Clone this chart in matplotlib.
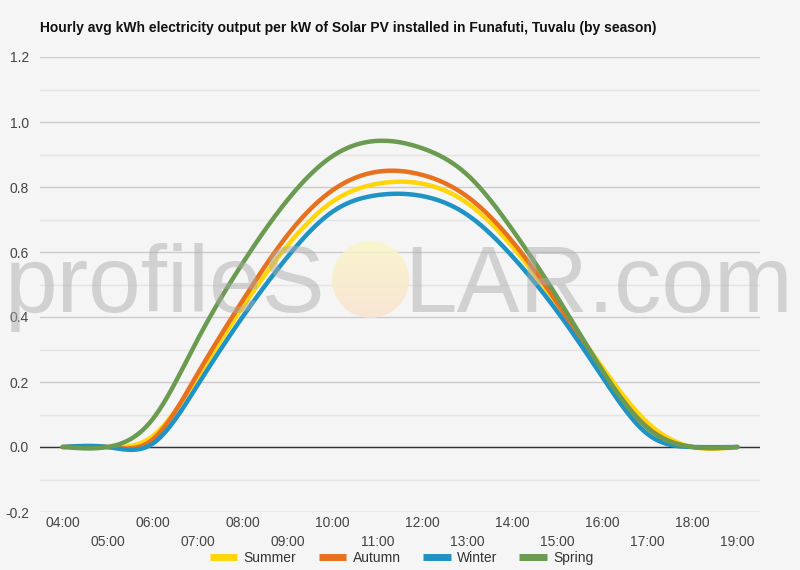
import numpy as np
import matplotlib
matplotlib.use("Agg")
import matplotlib.pyplot as plt
from matplotlib.patches import Circle
from matplotlib.colors import LinearSegmentedColormap

plt.rcParams['font.family'] = ['Liberation Sans', 'DejaVu Sans']

hours = ['04:00', '05:00', '06:00', '07:00', '08:00', '09:00', '10:00', '11:00',
         '12:00', '13:00', '14:00', '15:00', '16:00', '17:00', '18:00', '19:00']
summer = [0, 0, 0.033, 0.215, 0.43, 0.62, 0.755, 0.81, 0.81, 0.75, 0.616, 0.437, 0.245, 0.075, 0, 0]
autumn = [0, 0, 0.023, 0.225, 0.45, 0.652, 0.79, 0.847, 0.837, 0.77, 0.632, 0.442, 0.232, 0.06, 0, 0]
winter = [0, 0, 0.01, 0.19, 0.40, 0.585, 0.724, 0.775, 0.772, 0.714, 0.586, 0.416, 0.215, 0.04, 0, 0]
spring = [0, 0, 0.085, 0.33, 0.565, 0.76, 0.895, 0.942, 0.919, 0.837, 0.668, 0.46, 0.235, 0.058, 0, 0]

series = [('Summer', summer, '#ffd60a'), ('Autumn', autumn, '#e8711e'),
          ('Winter', winter, '#1f93c4'), ('Spring', spring, '#6b9a51')]


def smooth(y, n=40):
    # natural cubic spline through the hourly points (drawing only)
    y = np.asarray(y, dtype=float)
    k = len(y)
    A = np.zeros((k, k))
    b = np.zeros(k)
    A[0, 0] = A[-1, -1] = 1
    for i in range(1, k - 1):
        A[i, i-1], A[i, i], A[i, i+1] = 1, 4, 1
        b[i] = 6 * (y[i+1] - 2*y[i] + y[i-1])
    M = np.linalg.solve(A, b)
    xs, ys = [], []
    for i in range(k - 1):
        t = np.linspace(0, 1, n, endpoint=False)
        seg = ((1-t)*y[i] + t*y[i+1]
               + ((1-t)**3 - (1-t)) * M[i] / 6 + (t**3 - t) * M[i+1] / 6)
        xs.append(i + t)
        ys.append(seg)
    xs.append([k - 1])
    ys.append([y[-1]])
    return np.concatenate(xs), np.concatenate(ys)


bg = '#f5f5f5'
fig = plt.figure(figsize=(8, 5.7), dpi=100, facecolor=bg)
ax = fig.add_axes([40/800, 1-512/570, 720/800, 455/570], facecolor=bg)

for name, vals, col in series:
    xs, ys = smooth(vals)
    ax.plot(xs, ys, color=col, lw=3.2, label=name, solid_capstyle='round', zorder=3)

ax.axhline(0, color='#333333', lw=1, zorder=2)
ax.set_xlim(-0.5, len(hours) - 0.5)
ax.set_ylim(-0.2, 1.2)
ax.set_yticks(np.arange(-0.2, 1.21, 0.2))
ax.set_yticklabels(['%.1f' % v for v in np.arange(-0.2, 1.21, 0.2)])
ax.set_yticks(np.arange(-0.1, 1.2, 0.2), minor=True)
ax.grid(axis='y', which='major', color='#cccccc', lw=1, zorder=0)
ax.grid(axis='y', which='minor', color='#e4e4e4', lw=1, zorder=0)
ax.set_axisbelow(True)

idx = np.arange(len(hours))
ax.set_xticks(idx[::2])
ax.set_xticklabels(hours[::2])
ax.set_xticks(idx[1::2], minor=True)
ax.set_xticklabels(hours[1::2], minor=True)
# odd hours go on a second row under the even hours
ax.tick_params(axis='x', which='major', length=0, pad=3, labelsize=10, labelcolor='#444444')
ax.tick_params(axis='x', which='minor', length=0, pad=16.5, labelsize=10, labelcolor='#444444')
ax.tick_params(axis='y', which='both', length=0, pad=8, labelsize=10, labelcolor='#444444')
for s in ax.spines.values():
    s.set_visible(False)

leg = ax.legend(loc='center', bbox_to_anchor=(0.502, 1-558/570), bbox_transform=fig.transFigure,
                ncol=4, frameon=False, fontsize=10, handlelength=2.0, handletextpad=0.45,
                columnspacing=1.6, labelcolor='#333333')
for h in leg.get_lines():
    h.set_linewidth(5)
    h.set_solid_capstyle('butt')

fig.text(40/800, 1-28/570, 'Hourly avg kWh electricity output per kW of Solar PV installed in Funafuti, Tuvalu (by season)',
         fontsize=10, fontweight='bold', va='center', ha='left', color='#111111')

# watermark
fig.text(5/800, 1-312/570, 'profileS', fontsize=68, color='#ababab', alpha=0.48,
         ha='left', va='baseline', zorder=10)
fig.text(793/800, 1-312/570, 'LAR.com', fontsize=68, color='#ababab', alpha=0.48,
         ha='right', va='baseline', zorder=10)
sun = fig.add_axes([332/800, 1-318/570, 77/800, 77/570], zorder=10)
sun.set_axis_off()
sun.patch.set_alpha(0)
grad = np.linspace(0, 1, 100).reshape(-1, 1)
cmap = LinearSegmentedColormap.from_list('sun', ['#faf6c6', '#f9e3cf'])
im = sun.imshow(grad, cmap=cmap, extent=[0, 1, 0, 1], origin='upper', aspect='auto', alpha=0.85)
circ = Circle((0.5, 0.5), 0.5, transform=sun.transData)
im.set_clip_path(circ)
sun.set_xlim(0, 1)
sun.set_ylim(0, 1)

fig.savefig('out.png', dpi=100, facecolor=bg)
